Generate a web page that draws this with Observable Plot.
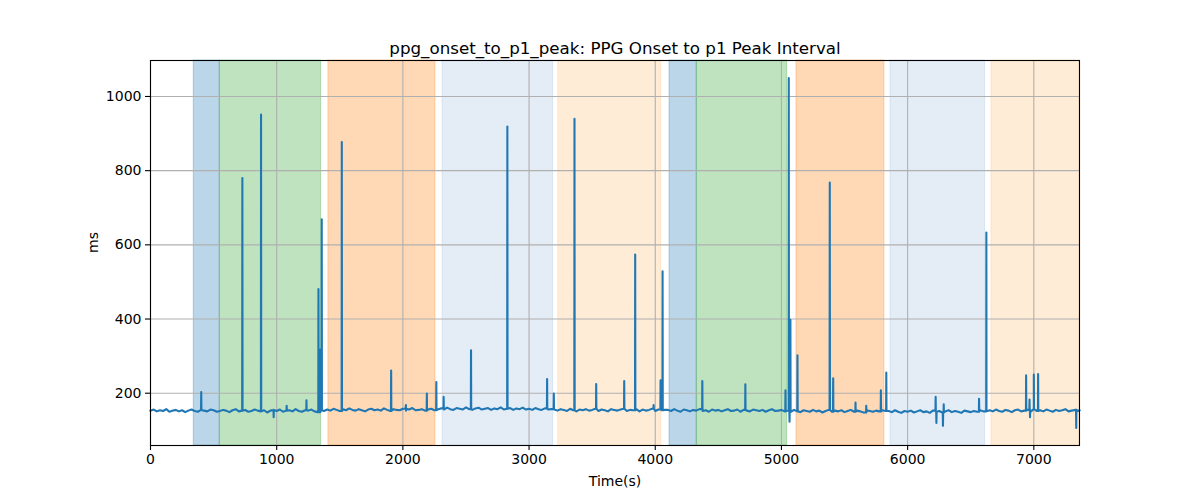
<!DOCTYPE html>
<html>
<head>
<meta charset="utf-8">
<script src="https://cdn.jsdelivr.net/npm/d3@7"></script>
<script src="https://cdn.jsdelivr.net/npm/@observablehq/plot@0.6"></script>
<style>
  html, body { margin: 0; padding: 0; background: #fff; }
  #chart { width: 1200px; height: 500px; }
</style>
</head>
<body>
<div id="chart"></div>
<script>
// ---- data ----
const titleText = "ppg_onset_to_p1_peak: PPG Onset to p1 Peak Interval";
const xLabel = "Time(s)";
const yLabel = "ms";
const xTicks = [0, 1000, 2000, 3000, 4000, 5000, 6000, 7000];
const yTicks = [200, 400, 600, 800, 1000];
const xDomain = [0, 7362];
const yDomain = [59, 1097];

// shaded phases
const spanStarts = [343, 549, 1410, 2314, 3231, 4113, 4329, 5119, 5864, 6664];
const spanEnds   = [549, 1352, 2258, 3191, 4047, 4329, 5045, 5816, 6614, 7362];
const spanKinds  = ["blue", "green", "orange", "lightblue", "lightorange",
                    "blue", "green", "orange", "lightblue", "lightorange"];
const kindColors = {
  blue: "#1f77b4", green: "#2ca02c", orange: "#ff7f0e",
  lightblue: "#a7c1e2", lightorange: "#ffbf7c"
};

// baseline samples every 25 s (t = 0 .. 7350)
const baseStep = 25;
const baselineValues = [
  153,156,151,154,152,157,150,153,155,151, 154,149,153,156,152,150,155,153,151,156,
  154,150,152,155,153,149,154,157,151,153, 155,150,152,156,153,151,154,148,153,155,
  152,156,150,153,154,151,157,152,150,154, 153,156,151,149,154,152,
  156,153,158,155,152,157,154,159,155,153, 157,154,151,156,158,154,156,153,159,155,
  152,157,155,154,158,153,156,160,154,155, 157,153,156,158,154,156,
  159,156,161,157,155,160,158,156,162,157, 155,159,161,156,158,160,155,159,157,162,
  156,158,160,155,159,157,161,156,158,155, 160,157,155,159,156,157,
  156,153,157,155,152,158,154,151,156,154, 157,153,155,158,152,156,154,151,157,155,
  153,156,158,152,155,154,157,151,156,153, 155,158,152,156,154,155,
  155,152,157,153,150,156,154,151,155,153, 157,152,154,150,156,153,155,151,154,157,
  152,153,156,150,155,153,151,156,154,152, 155,150,154,157,152,153,155,151,
  153,150,155,151,149,154,152,150,155,151, 153,148,152,155,150,153,151,154,149,152,
  155,150,153,151,148,154,152,150,153,151, 154,152,
  152,149,154,150,147,152,150,153,148,151, 154,149,151,147,153,150,152,148,151,154,
  149,152,150,147,153,151,149,152,150,154, 151,153,
  154,151,156,152,150,155,153,149,154,156, 151,153,155,150,157,152,154,151,156,153,
  150,155,152,154,157,151,153,155,152
];
const endTime = 7362;
const endValue = 154;

// spikes / dips (time, value)
const spikeTimes = [402, 728, 876, 976, 1079, 1236, 1331, 1344, 1357, 1516, 1907, 2024, 2190, 2265, 2323,
  2540, 2828, 3143, 3196, 3360, 3532, 3754, 3841, 3987, 4042, 4058, 4373, 4714, 5032, 5058, 5064,
  5071, 5127, 5383, 5410, 5587, 5672, 5788, 5831, 6222, 6228, 6280, 6286, 6566, 6624, 6939, 6966,
  6970, 7000, 7034, 7336];
const spikeValues = [203, 780, 951, 135, 166, 181, 481, 318, 669, 877, 261, 168, 199, 230, 190,
  316, 919, 238, 199, 940, 225, 233, 574, 168, 235, 529, 233, 224, 208, 1050, 123,
  398, 302, 768, 240, 175, 166, 208, 256, 190, 120, 112, 170, 185, 633, 248, 183,
  135, 250, 252, 106];

// ---- build tables ----
const series = baselineValues.map((v, i) => ({t: i * baseStep, v}));
series.push({t: endTime, v: endValue});
spikeTimes.forEach((t, i) => {
  const b = baselineValues[Math.min(baselineValues.length - 1, Math.floor(t / baseStep))];
  series.push({t: t - 1.5, v: b}, {t, v: spikeValues[i]}, {t: t + 1.5, v: b});
});
series.sort((a, b) => a.t - b.t);

const spans = spanStarts.map((s, i) => ({x1: s, x2: spanEnds[i], kind: spanKinds[i]}));

const font = "DejaVu Sans, sans-serif";
const fmt = d => String(d);

const chart = Plot.plot({
  width: 1200,
  height: 500,
  marginLeft: 150,
  marginRight: 121,
  marginTop: 60,
  marginBottom: 55,
  style: {fontFamily: font, fontSize: "14px", color: "black", background: "white"},
  x: {domain: xDomain, ticks: xTicks, tickFormat: fmt},
  y: {domain: yDomain, ticks: yTicks, tickFormat: fmt},
  marks: [
    Plot.rectX(spans, {
      x1: "x1", x2: "x2", y1: yDomain[0], y2: yDomain[1],
      fill: d => kindColors[d.kind], fillOpacity: 0.3,
      stroke: d => kindColors[d.kind], strokeOpacity: 0.3, strokeWidth: 1
    }),
    Plot.gridX(xTicks, {stroke: "#b0b0b0", strokeOpacity: 1, strokeWidth: 1.1}),
    Plot.gridY(yTicks, {stroke: "#b0b0b0", strokeOpacity: 1, strokeWidth: 1.1}),
    Plot.line(series, {x: "t", y: "v", stroke: "#1f77b4", strokeWidth: 2.08, strokeLinejoin: "round", strokeLinecap: "square"}),
    Plot.frame({stroke: "black", strokeWidth: 1.1}),
    Plot.axisX(xTicks, {tickSize: 5, tickPadding: 4, fontSize: 14, label: null, stroke: "black", strokeWidth: 1.1, tickFormat: fmt}),
    Plot.axisY(yTicks, {tickSize: 5, tickPadding: 4, fontSize: 14, label: null, stroke: "black", strokeWidth: 1.1, tickFormat: fmt}),
    Plot.text([titleText], {frameAnchor: "top", dy: -7, lineAnchor: "bottom", fontSize: 16.7, fill: "black"}),
    Plot.text([xLabel], {frameAnchor: "bottom", dy: 36, lineAnchor: "middle", fontSize: 14, fill: "black"}),
    Plot.text([yLabel], {frameAnchor: "left", dx: -57, rotate: -90, fontSize: 14, fill: "black"})
  ]
});
document.getElementById("chart").appendChild(chart);
</script>
</body>
</html>
